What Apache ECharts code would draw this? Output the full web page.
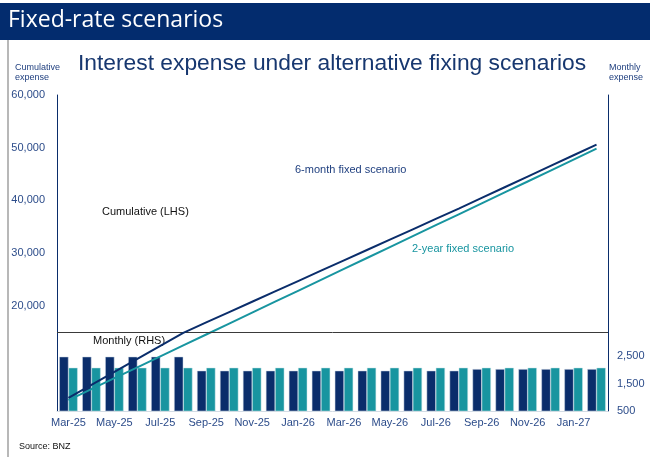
<!DOCTYPE html>
<html>
<head>
<meta charset="utf-8">
<script src="https://cdn.jsdelivr.net/npm/echarts@6/dist/echarts.min.js"></script>
<style>
  html, body { margin: 0; padding: 0; background: #fff; }
  #chart { width: 650px; height: 457px; }
</style>
</head>
<body>
<div id="chart"></div>
<script>
// Months on the category axis
const months = [
  'Mar-25','Apr-25','May-25','Jun-25','Jul-25','Aug-25','Sep-25','Oct-25','Nov-25','Dec-25','Jan-26','Feb-26',
  'Mar-26','Apr-26','May-26','Jun-26','Jul-26','Aug-26','Sep-26','Oct-26','Nov-26','Dec-26','Jan-27','Feb-27'
];

// Monthly interest expense (RHS)
const monthlySixMonth = [
  2475, 2475, 2475, 2475, 2475, 2475, 1965, 1965, 1965, 1965, 1965, 1965,
  1965, 1965, 1965, 1965, 1965, 1965, 2025, 2025, 2025, 2025, 2025, 2025
];
const monthlyTwoYear = [
  2075, 2075, 2075, 2075, 2075, 2075, 2075, 2075, 2075, 2075, 2075, 2075,
  2075, 2075, 2075, 2075, 2075, 2075, 2075, 2075, 2075, 2075, 2075, 2075
];

// Cumulative interest expense (LHS)
const cumulativeSixMonth = [
  2475, 4950, 7425, 9900, 12375, 14850, 16815, 18780, 20745, 22710, 24675, 26640,
  28605, 30570, 32535, 34500, 36465, 38430, 40455, 42480, 44505, 46530, 48555, 50580
];
const cumulativeTwoYear = [
  2075, 4150, 6225, 8300, 10375, 12450, 14525, 16600, 18675, 20750, 22825, 24900,
  26975, 29050, 31125, 33200, 35275, 37350, 39425, 41500, 43575, 45650, 47725, 49800
];

// Tick labels shown on each value axis
const leftTickLabels = [20000, 30000, 40000, 50000, 60000];
const rightTickLabels = [500, 1500, 2500];
const sectionDivider = 15000;

const NAVY = '#0a2d6b';
const TEAL = '#1895a0';
const AXIS_TEXT = '#2c4c8a';
const FONT = '"Liberation Sans", Arial, sans-serif';

const fmt = v => v.toLocaleString('en-US');

const chart = echarts.init(document.getElementById('chart'), null, { renderer: 'canvas' });

chart.setOption({
  animation: false,
  backgroundColor: '#ffffff',
  textStyle: { fontFamily: FONT },
  grid: { left: 57, right: 42, top: 95, bottom: 46, containLabel: false },
  graphic: [
    { type: 'rect', shape: { x: 0, y: 3, width: 650, height: 37 }, style: { fill: '#032c6e' }, silent: true },
    { type: 'text', left: 8, top: 9,
      style: { text: 'Fixed-rate scenarios', fill: '#ffffff', font: '23px "Open Sans", "Noto Sans", sans-serif' } },
    { type: 'line', shape: { x1: 8, y1: 40, x2: 8, y2: 457 }, style: { stroke: '#b8b8b8', lineWidth: 2 } },
    { type: 'text', left: 78, top: 52,
      style: { text: 'Interest expense under alternative fixing scenarios', fill: '#17376f', font: '22.8px ' + FONT } },
    { type: 'text', left: 15, top: 63,
      style: { text: 'Cumulative\nexpense', fill: '#1f3f7f', font: '9px ' + FONT, lineHeight: 10 } },
    { type: 'text', left: 609, top: 63,
      style: { text: 'Monthly\nexpense', fill: '#1f3f7f', font: '9px ' + FONT, lineHeight: 10 } },
    { type: 'text', left: 295, top: 164,
      style: { text: '6-month fixed scenario', fill: '#1f3f7f', font: '11px ' + FONT } },
    { type: 'text', left: 412, top: 243,
      style: { text: '2-year fixed scenario', fill: TEAL, font: '11px ' + FONT } },
    { type: 'text', left: 102, top: 206,
      style: { text: 'Cumulative (LHS)', fill: '#111', font: '11px ' + FONT } },
    { type: 'text', left: 93, top: 335,
      style: { text: 'Monthly (RHS)', fill: '#111', font: '11px ' + FONT } },
    { type: 'text', left: 19, top: 442,
      style: { text: 'Source: BNZ', fill: '#111', font: '9px ' + FONT } }
  ],
  xAxis: {
    type: 'category',
    data: months,
    boundaryGap: true,
    axisLine: { show: true, lineStyle: { color: '#d3dbe4', width: 1 } },
    axisTick: { show: false },
    axisLabel: { interval: 1, color: AXIS_TEXT, fontSize: 11, margin: 6, fontFamily: FONT }
  },
  yAxis: [
    {
      type: 'value', position: 'left', min: 0, max: 60000, interval: 10000,
      axisLine: { show: true, lineStyle: { color: NAVY, width: 1 } },
      axisTick: { show: false },
      splitLine: { show: false },
      axisLabel: {
        color: AXIS_TEXT, fontSize: 11, margin: 12, fontFamily: FONT,
        formatter: v => leftTickLabels.includes(v) ? fmt(v) : ''
      }
    },
    {
      type: 'value', position: 'right', min: 500, max: 12000, interval: 1000,
      axisLine: { show: true, lineStyle: { color: NAVY, width: 1 } },
      axisTick: { show: false },
      splitLine: { show: false },
      axisLabel: {
        color: AXIS_TEXT, fontSize: 11, margin: 9, fontFamily: FONT,
        formatter: v => rightTickLabels.includes(v) ? fmt(v) : ''
      }
    }
  ],
  series: [
    {
      name: '6-month monthly', type: 'bar', yAxisIndex: 1, data: monthlySixMonth,
      barGap: '0%', barCategoryGap: '20%',
      itemStyle: { color: NAVY, borderColor: '#c9d5e3', borderWidth: 0.5 },
      z: 2
    },
    {
      name: '2-year monthly', type: 'bar', yAxisIndex: 1, data: monthlyTwoYear,
      barGap: '0%', barCategoryGap: '20%',
      itemStyle: { color: TEAL, borderColor: '#c9e3e6', borderWidth: 0.5 },
      z: 2
    },
    {
      name: '6-month cumulative', type: 'line', yAxisIndex: 0, data: cumulativeSixMonth,
      showSymbol: false, symbol: 'none',
      lineStyle: { color: NAVY, width: 2 },
      z: 5,
      markLine: {
        silent: true, symbol: 'none', label: { show: false },
        lineStyle: { color: '#3a3a3a', width: 1, type: 'solid' },
        data: [{ yAxis: sectionDivider }]
      }
    },
    {
      name: '2-year cumulative', type: 'line', yAxisIndex: 0, data: cumulativeTwoYear,
      showSymbol: false, symbol: 'none',
      lineStyle: { color: TEAL, width: 2 },
      z: 4
    }
  ]
});
</script>
</body>
</html>
